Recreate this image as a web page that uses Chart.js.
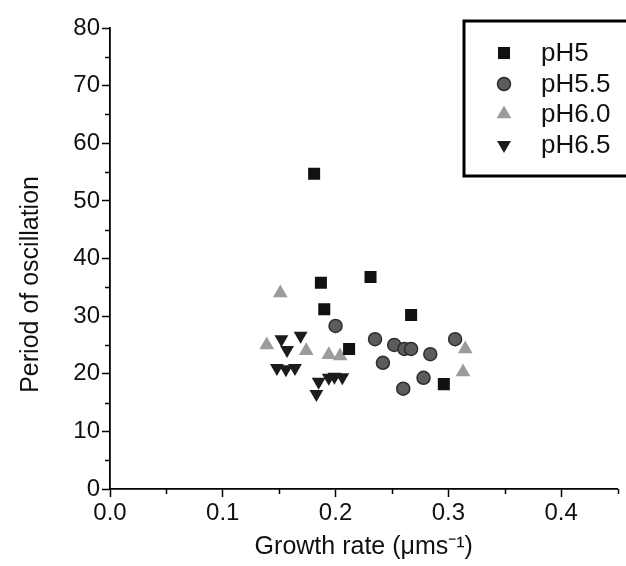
<!DOCTYPE html>
<html>
<head>
<meta charset="utf-8">
<script src="https://cdn.jsdelivr.net/npm/chart.js@4/dist/chart.umd.min.js"></script>
<style>
  html, body { margin: 0; padding: 0; background: #fff; }
  #wrap { width: 626px; height: 566px; position: relative; }
</style>
</head>
<body>
<div id="wrap"><canvas id="c" width="626" height="566"></canvas></div>
<script>
// ---- data ----
const seriesNames = ['pH5', 'pH5.5', 'pH6.0', 'pH6.5'];

const pH5_x = [0.181, 0.187, 0.190, 0.212, 0.231, 0.267, 0.296];
const pH5_y = [54.7, 35.8, 31.2, 24.3, 36.8, 30.2, 18.2];

const pH55_x = [0.200, 0.235, 0.242, 0.252, 0.261, 0.267, 0.260, 0.278, 0.284, 0.306];
const pH55_y = [28.3, 26.0, 21.9, 25.0, 24.3, 24.3, 17.4, 19.3, 23.4, 26.0];

const pH60_x = [0.139, 0.151, 0.174, 0.194, 0.204, 0.315, 0.313];
const pH60_y = [25.0, 34.0, 24.0, 23.3, 23.1, 24.3, 20.3];

const pH65_x = [0.152, 0.157, 0.169, 0.148, 0.156, 0.164, 0.183, 0.185, 0.194, 0.199, 0.206];
const pH65_y = [26.0, 24.1, 26.6, 21.0, 20.8, 21.0, 16.5, 18.6, 19.3, 19.5, 19.4];

const xTickValues = [0.0, 0.1, 0.2, 0.3, 0.4];
const yTickValues = [0, 10, 20, 30, 40, 50, 60, 70, 80];

const xTitle = 'Growth rate (μms⁻¹)';
const yTitle = 'Period of oscillation';

function pts(xs, ys) { return xs.map((x, i) => ({ x: x, y: ys[i] })); }

const FONT = "'Liberation Sans', Arial, Helvetica, sans-serif";

const styles = [
  { pointStyle: 'rect', radius: 8.5, rotation: 0, bg: '#111111', border: '#111111', bw: 0 },
  { pointStyle: 'circle', radius: 6.5, rotation: 0, bg: '#5c5c5c', border: '#2e2e2e', bw: 1.5 },
  { pointStyle: 'triangle', radius: 8.5, rotation: 0, bg: '#9c9c9c', border: '#9c9c9c', bw: 0 },
  { pointStyle: 'triangle', radius: 8, rotation: 180, bg: '#1c1c1c', border: '#1c1c1c', bw: 0 }
];

const dataArr = [pts(pH5_x, pH5_y), pts(pH55_x, pH55_y), pts(pH60_x, pH60_y), pts(pH65_x, pH65_y)];

const datasets = dataArr.map((d, i) => ({
  label: seriesNames[i],
  data: d,
  pointStyle: styles[i].pointStyle,
  pointRadius: styles[i].radius,
  pointRotation: styles[i].rotation,
  backgroundColor: styles[i].bg,
  borderColor: styles[i].border,
  borderWidth: styles[i].bw,
  pointHoverRadius: styles[i].radius
}));

// minor ticks, y title and legend box plugin
const extras = {
  id: 'extras',
  afterDraw(chart) {
    const ctx = chart.ctx;
    const xs = chart.scales.x, ys = chart.scales.y;
    ctx.save();
    ctx.strokeStyle = '#000';
    ctx.lineWidth = 1.5;
    // minor ticks
    for (let v = 0.05; v < 0.45; v += 0.1) {
      const px = Math.round(xs.getPixelForValue(v)) + 0.5;
      ctx.beginPath(); ctx.moveTo(px, xs.top); ctx.lineTo(px, xs.top + 5); ctx.stroke();
    }
    for (let v = 5; v < 80; v += 10) {
      const py = Math.round(ys.getPixelForValue(v)) + 0.5;
      ctx.beginPath(); ctx.moveTo(ys.right, py); ctx.lineTo(ys.right - 5, py); ctx.stroke();
    }
    // y axis title
    ctx.save();
    ctx.translate(31, ys.getPixelForValue(35.5));
    ctx.rotate(-Math.PI / 2);
    ctx.font = '25px ' + FONT;
    ctx.fillStyle = '#111';
    ctx.textAlign = 'center';
    ctx.textBaseline = 'middle';
    ctx.fillText(yTitle, 0, 0);
    ctx.restore();
    // legend
    const bx = 464, by = 21, bw = 170, bh = 155;
    ctx.lineWidth = 3;
    ctx.strokeRect(bx, by, bw, bh);
    const rowY = [53, 84, 114, 145];
    ctx.font = '26px ' + FONT;
    ctx.textBaseline = 'middle';
    ctx.textAlign = 'left';
    seriesNames.forEach((name, i) => {
      const s = styles[i];
      const opts = { pointStyle: s.pointStyle, radius: s.radius, rotation: s.rotation, borderWidth: s.bw };
      ctx.fillStyle = s.bg;
      ctx.strokeStyle = s.border;
      ctx.lineWidth = s.bw;
      if (Chart.helpers && Chart.helpers.drawPoint) {
        Chart.helpers.drawPoint(ctx, opts, 504, rowY[i]);
      }
      ctx.fillStyle = '#111';
      ctx.fillText(name, 541, rowY[i] + 1);
    });
    ctx.restore();
  }
};

new Chart(document.getElementById('c'), {
  type: 'scatter',
  data: { datasets: datasets },
  options: {
    responsive: false,
    animation: false,
    devicePixelRatio: 1,
    layout: { padding: { top: 28, right: 1, left: 0, bottom: 0 } },
    plugins: { legend: { display: false }, tooltip: { enabled: false } },
    scales: {
      x: {
        type: 'linear',
        min: 0, max: 0.45,
        afterFit(scale) { scale.height = 77; },
        afterBuildTicks(scale) { scale.ticks = xTickValues.map(v => ({ value: v })); },
        ticks: {
          color: '#111',
          font: { family: FONT, size: 24 },
          padding: 2,
          maxRotation: 0,
          callback: (v) => Number(v).toFixed(1)
        },
        grid: { drawOnChartArea: false, drawTicks: true, tickLength: 8, tickColor: '#000', tickWidth: 1.5 },
        border: { display: true, color: '#000', width: 1.8 },
        title: {
          display: true,
          text: xTitle,
          color: '#111',
          font: { family: FONT, size: 25 },
          padding: { top: 0, bottom: 4 }
        }
      },
      y: {
        type: 'linear',
        min: 0, max: 80,
        afterFit(scale) { scale.width = 110; },
        afterBuildTicks(scale) { scale.ticks = yTickValues.map(v => ({ value: v })); },
        ticks: {
          color: '#111',
          font: { family: FONT, size: 24 },
          padding: 2,
          callback: (v) => String(v)
        },
        grid: { drawOnChartArea: false, drawTicks: true, tickLength: 8, tickColor: '#000', tickWidth: 1.5 },
        border: { display: true, color: '#000', width: 1.8 },
        title: { display: false }
      }
    }
  },
  plugins: [extras]
});
</script>
</body>
</html>
